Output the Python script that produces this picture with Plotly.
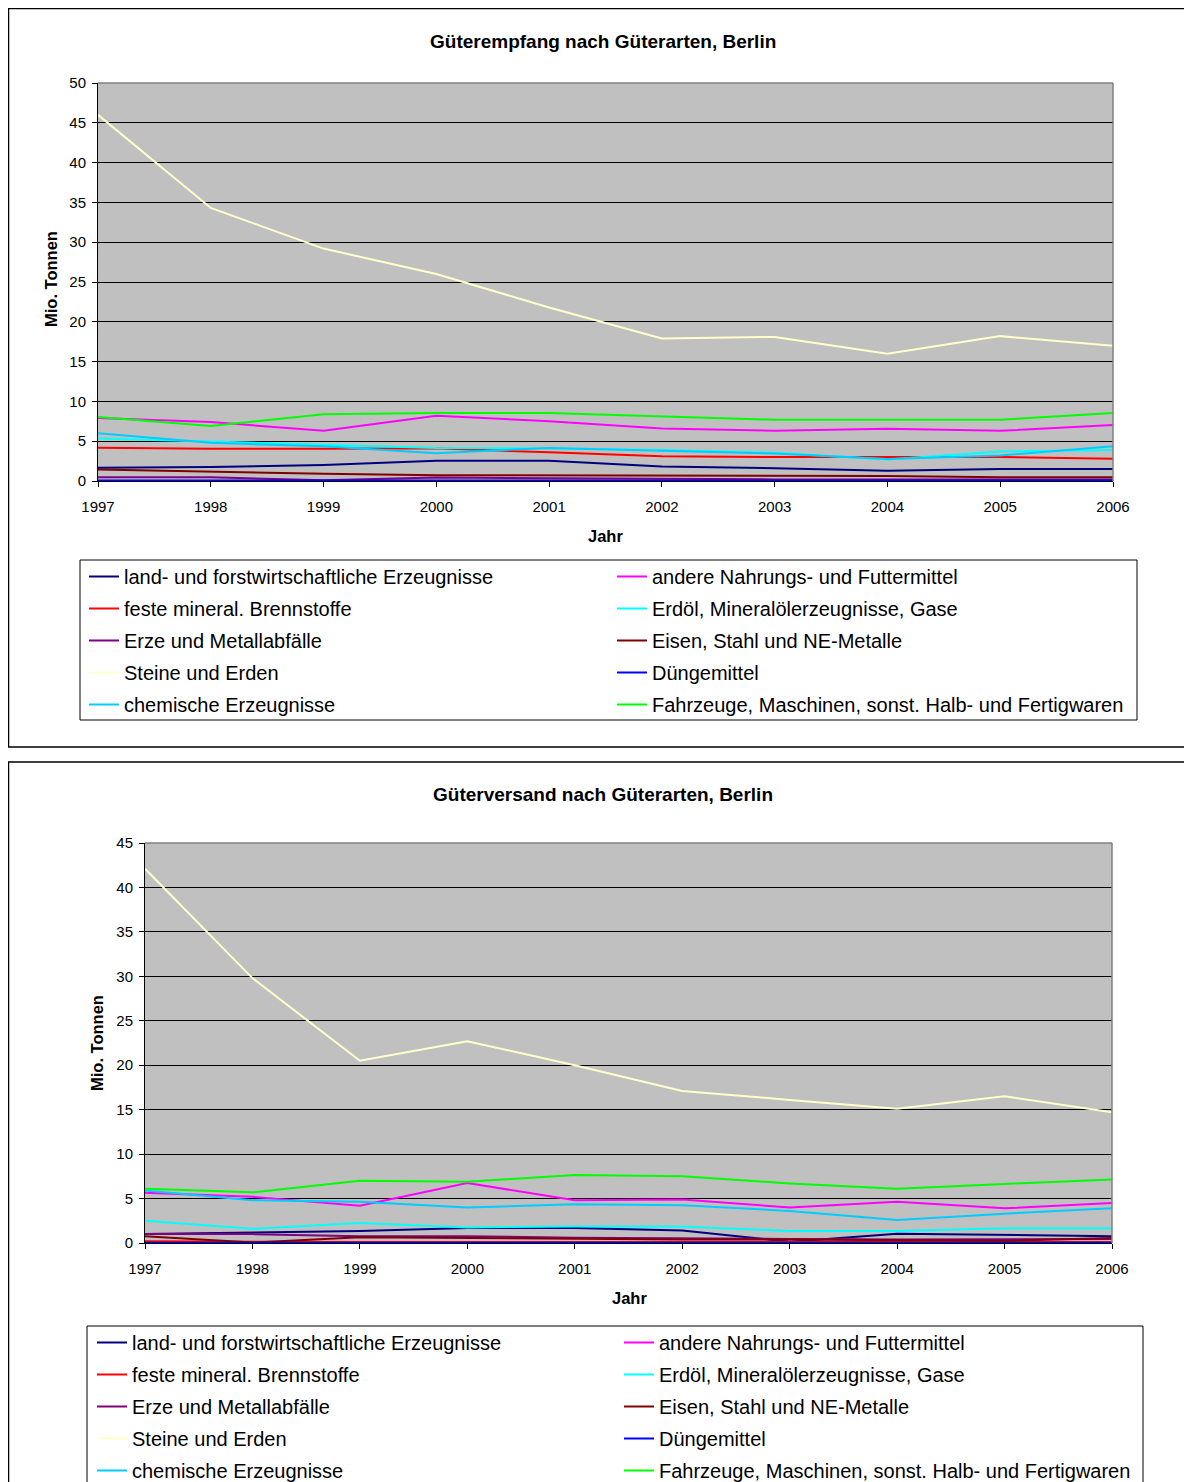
import plotly.graph_objects as go

W, H = 1192, 1482
OFF = 8  # page body margin offset

years = [1997, 1998, 1999, 2000, 2001, 2002, 2003, 2004, 2005, 2006]

series_names = [
    "land- und forstwirtschaftliche Erzeugnisse",
    "andere Nahrungs- und Futtermittel",
    "feste mineral. Brennstoffe",
    "Erdöl, Mineralölerzeugnisse, Gase",
    "Erze und Metallabfälle",
    "Eisen, Stahl und NE-Metalle",
    "Steine und Erden",
    "Düngemittel",
    "chemische Erzeugnisse",
    "Fahrzeuge, Maschinen, sonst. Halb- und Fertigwaren",
]

series_colors = [
    "#000080", "#FF00FF", "#FF0000", "#00FFFF", "#800080",
    "#800000", "#FFFFCC", "#0000FF", "#00CCFF", "#00FF00",
]

# Güterempfang (Mio. Tonnen)
empfang_land = [1.66, 1.75, 2.0, 2.55, 2.55, 1.83, 1.6, 1.3, 1.5, 1.5]
empfang_andere = [7.9, 7.4, 6.3, 8.2, 7.5, 6.6, 6.3, 6.55, 6.3, 7.05]
empfang_feste = [4.17, 4.05, 4.05, 4.1, 3.6, 3.1, 3.0, 3.0, 3.0, 2.8]
empfang_erdoel = [5.35, 4.95, 4.5, 4.15, 4.1, 3.9, 3.55, 2.7, 3.7, 3.9]
empfang_erze = [0.47, 0.47, 0.08, 0.43, 0.34, 0.25, 0.2, 0.2, 0.2, 0.2]
empfang_eisen = [1.45, 1.15, 0.9, 0.72, 0.72, 0.72, 0.64, 0.64, 0.47, 0.47]
empfang_steine = [46.0, 34.3, 29.2, 26.0, 21.8, 17.9, 18.1, 16.0, 18.2, 17.0]
empfang_duenge = [0.05, 0.05, 0.05, 0.05, 0.05, 0.05, 0.05, 0.05, 0.05, 0.05]
empfang_chem = [6.0, 4.8, 4.35, 3.5, 4.15, 3.8, 3.45, 2.75, 3.2, 4.35]
empfang_fahrz = [8.04, 6.9, 8.4, 8.55, 8.55, 8.1, 7.7, 7.7, 7.7, 8.55]

# Güterversand (Mio. Tonnen)
versand_land = [1.0, 1.2, 1.35, 1.7, 1.7, 1.4, 0.15, 1.05, 0.87, 0.76]
versand_andere = [5.65, 5.2, 4.2, 6.75, 4.8, 4.9, 4.0, 4.65, 3.9, 4.5]
versand_feste = [0.2, 0.12, 0.1, 0.1, 0.1, 0.1, 0.1, 0.1, 0.1, 0.1]
versand_erdoel = [2.5, 1.6, 2.25, 1.75, 1.85, 1.85, 1.35, 1.35, 1.65, 1.65]
versand_erze = [1.0, 1.0, 0.75, 0.75, 0.6, 0.5, 0.45, 0.4, 0.4, 0.45]
versand_eisen = [0.75, 0.05, 0.65, 0.55, 0.5, 0.4, 0.4, 0.35, 0.25, 0.55]
versand_steine = [42.1, 29.8, 20.5, 22.7, 20.0, 17.1, 16.1, 15.1, 16.5, 14.7]
versand_duenge = [0.02, 0.02, 0.02, 0.02, 0.02, 0.02, 0.02, 0.02, 0.02, 0.02]
versand_chem = [5.9, 4.8, 4.65, 4.0, 4.35, 4.25, 3.6, 2.6, 3.3, 3.9]
versand_fahrz = [6.1, 5.7, 7.0, 6.9, 7.65, 7.5, 6.7, 6.1, 6.65, 7.15]

empfang = [empfang_land, empfang_andere, empfang_feste, empfang_erdoel, empfang_erze,
           empfang_eisen, empfang_steine, empfang_duenge, empfang_chem, empfang_fahrz]
versand = [versand_land, versand_andere, versand_feste, versand_erdoel, versand_erze,
           versand_eisen, versand_steine, versand_duenge, versand_chem, versand_fahrz]

title1 = "Güterempfang nach Güterarten, Berlin"
title2 = "Güterversand nach Güterarten, Berlin"
ytitle = "Mio. Tonnen"
xtitle = "Jahr"

FONT = "Liberation Sans, Arial, sans-serif"


def px(x):
    return (x - OFF) / W


def py(y):
    return 1 - (y - OFF) / H


fig = go.Figure()

for chart, data in ((1, empfang), (2, versand)):
    for i, (name, col, vals) in enumerate(zip(series_names, series_colors, data)):
        left = (i % 2 == 0)
        if chart == 1:
            lg = "legend" if left else "legend2"
        else:
            lg = "legend3" if left else "legend4"
        fig.add_trace(go.Scatter(
            x=years, y=vals, mode="lines", name=name,
            line=dict(color=col, width=2),
            xaxis="x" if chart == 1 else "x2",
            yaxis="y" if chart == 1 else "y2",
            legend=lg, legendgroup=f"c{chart}s{i}",
            showlegend=True, hoverinfo="skip",
        ))

axis_common = dict(
    tickfont=dict(family=FONT, size=15, color="black"),
    ticks="outside", ticklen=5, tickcolor="black",
    showline=True, linecolor="black", linewidth=1,
    zeroline=False,
)

fig.update_layout(
    width=W, height=H,
    margin=dict(l=0, r=0, t=0, b=0),
    paper_bgcolor="white",
    plot_bgcolor="#C0C0C0",
    template="none",
    font=dict(family=FONT, color="black"),
    modebar=dict(bgcolor="rgba(0,0,0,0)", color="rgba(0,0,0,0)",
                 activecolor="rgba(0,0,0,0)"),
    xaxis=dict(domain=[px(98), px(1113)], anchor="y", range=[1997, 2006],
               tickvals=years, showgrid=False, ticklabelstandoff=7, **axis_common),
    yaxis=dict(domain=[py(481), py(83)], anchor="x", range=[0, 50],
               tickvals=list(range(0, 51, 5)), showgrid=True, gridcolor="black",
               gridwidth=1, ticklabelstandoff=3, **axis_common),
    xaxis2=dict(domain=[px(145), px(1112)], anchor="y2", range=[1997, 2006],
                tickvals=years, showgrid=False, ticklabelstandoff=7, **axis_common),
    yaxis2=dict(domain=[py(1243), py(843)], anchor="x2", range=[0, 45],
                tickvals=list(range(0, 46, 5)), showgrid=True, gridcolor="black",
                gridwidth=1, ticklabelstandoff=3, **axis_common),
)

leg_common = dict(
    orientation="v", xanchor="left", yanchor="top",
    font=dict(family=FONT, size=20, color="black"),
    bgcolor="rgba(0,0,0,0)", borderwidth=0, tracegroupgap=3,
    traceorder="grouped",
)
fig.update_layout(
    legend=dict(x=px(84), y=py(557), **leg_common),
    legend2=dict(x=px(612), y=py(557), **leg_common),
    legend3=dict(x=px(92), y=py(1323), **leg_common),
    legend4=dict(x=px(619), y=py(1323), **leg_common),
)

shapes = [
    # chart frames
    dict(type="rect", xref="paper", yref="paper", x0=px(8.5), x1=px(1220),
         y0=py(747), y1=py(8.5), line=dict(color="black", width=1.5)),
    dict(type="rect", xref="paper", yref="paper", x0=px(8.5), x1=px(1220),
         y0=py(1510), y1=py(762), line=dict(color="black", width=1.5)),
    # legend boxes
    dict(type="rect", xref="paper", yref="paper", x0=px(80), x1=px(1137),
         y0=py(720), y1=py(560), line=dict(color="black", width=1)),
    dict(type="rect", xref="paper", yref="paper", x0=px(87), x1=px(1143),
         y0=py(1510), y1=py(1326), line=dict(color="black", width=1)),
]
# plot area borders (top and right, gray)
for xa, ya in (("x", "y"), ("x2", "y2")):
    shapes.append(dict(type="line", xref=f"{xa} domain", yref=f"{ya} domain",
                       x0=1, x1=1, y0=0, y1=1, line=dict(color="#808080", width=1.5)))
    shapes.append(dict(type="line", xref=f"{xa} domain", yref=f"{ya} domain",
                       x0=0, x1=1, y0=1, y1=1, line=dict(color="#808080", width=1.5)))
fig.update_layout(shapes=shapes)

ann = []
for t, y in ((title1, 41), (title2, 795)):
    ann.append(dict(text=f"<b>{t}</b>", x=px(603), y=py(y), xref="paper", yref="paper",
                    showarrow=False, xanchor="center", yanchor="middle",
                    font=dict(family=FONT, size=19, color="black")))
for x, y in ((51, 279), (97, 1043)):
    ann.append(dict(text=f"<b>{ytitle}</b>", x=px(x), y=py(y), xref="paper", yref="paper",
                    showarrow=False, xanchor="center", yanchor="middle", textangle=-90,
                    font=dict(family=FONT, size=16.5, color="black")))
for x, y in ((605, 536), (629, 1298)):
    ann.append(dict(text=f"<b>{xtitle}</b>", x=px(x), y=py(y), xref="paper", yref="paper",
                    showarrow=False, xanchor="center", yanchor="middle",
                    font=dict(family=FONT, size=16.5, color="black")))
fig.update_layout(annotations=ann)

fig.write_html("out.html")
